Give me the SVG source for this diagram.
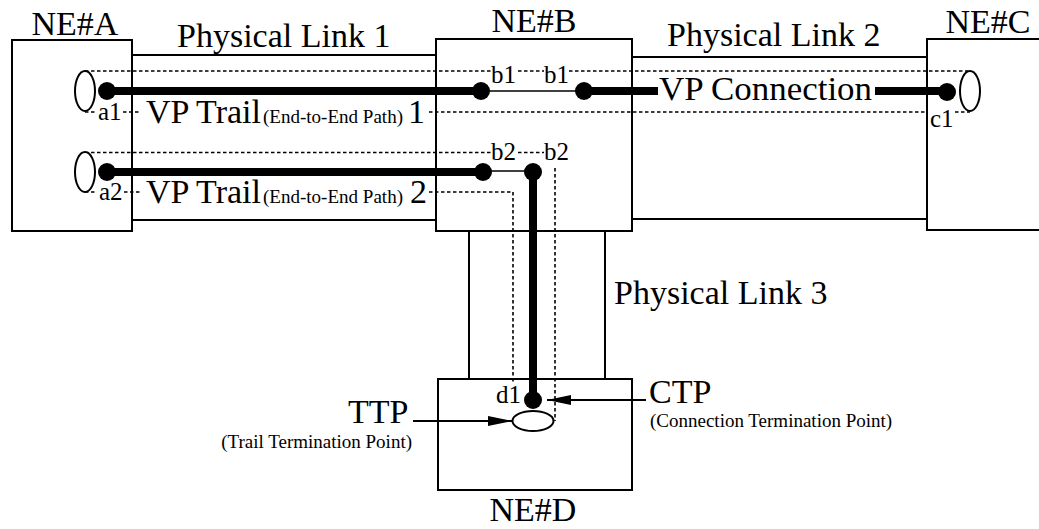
<svg xmlns="http://www.w3.org/2000/svg" width="1039" height="529" viewBox="0 0 1039 529">
  <style>
    .box { fill: #fff; stroke: #000; stroke-width: 2; }
    .link { fill: none; stroke: #000; stroke-width: 2; }
    .dash { fill: none; stroke: #000; stroke-width: 1.6; stroke-dasharray: 3.5 2.5; }
    .thick { fill: none; stroke: #000; stroke-width: 8; }
    .thin { fill: none; stroke: #000; stroke-width: 1.6; }
    .dot { fill: #000; }
    .tp { fill: #fff; stroke: #000; stroke-width: 2; }
    .arrow { fill: none; stroke: #000; stroke-width: 2; marker-end: url(#head); }
    text { font-family: "Liberation Serif", "Times New Roman", serif; fill: #000; }
    .big { font-size: 34px; }
    .lbl { font-size: 25px; }
    .small { font-size: 19px; }
    .mid { text-anchor: middle; }
  </style>
  <defs>
    <marker id="head" viewBox="0 0 24 10" refX="24" refY="5" markerWidth="24" markerHeight="10" markerUnits="userSpaceOnUse" orient="auto">
      <path d="M0,0 L24,5 L0,10 Z" fill="#000"/>
    </marker>
  </defs>

  <rect width="1039" height="529" fill="#fff"/>

  <!-- physical links between network elements -->
  <g id="physical-links">
    <line class="link" x1="132" y1="55" x2="436" y2="55"/>
    <line class="link" x1="132" y1="220" x2="436" y2="220"/>
    <text class="big" x="177" y="47">Physical Link 1</text>
    <line class="link" x1="632" y1="57" x2="927" y2="57"/>
    <line class="link" x1="632" y1="219" x2="927" y2="219"/>
    <text class="big" x="667" y="46">Physical Link 2</text>
    <line class="link" x1="469" y1="231" x2="469" y2="379"/>
    <line class="link" x1="605" y1="231" x2="605" y2="379"/>
    <text class="big" x="614" y="304">Physical Link 3</text>
  </g>

  <!-- network elements -->
  <g id="ne-a">
    <rect class="box" x="12" y="40" width="120" height="191"/>
    <text class="big mid" x="75" y="35">NE#A</text>
  </g>
  <g id="ne-b">
    <rect class="box" x="436" y="39" width="196" height="192"/>
    <text class="big mid" x="534" y="32">NE#B</text>
  </g>
  <g id="ne-c">
    <rect class="box" x="927" y="39" width="120" height="191"/>
    <text class="big mid" x="988" y="33">NE#C</text>
  </g>
  <g id="ne-d">
    <rect class="box" x="438" y="379" width="194" height="111"/>
    <text class="big mid" x="533" y="521">NE#D</text>
  </g>

  <!-- trails and connections -->
  <g id="connectors">
    <!-- VP trail 1 boundary -->
    <line class="dash" x1="85" y1="71" x2="491" y2="71"/>
    <line class="dash" x1="518" y1="71" x2="544" y2="71"/>
    <line class="dash" x1="569" y1="71" x2="970" y2="71"/>
    <line class="dash" x1="85" y1="112" x2="96" y2="112"/>
    <line class="dash" x1="123" y1="112" x2="141" y2="112"/>
    <line class="dash" x1="429" y1="112" x2="928" y2="112"/>
    <line class="dash" x1="955" y1="112" x2="970" y2="112"/>

    <!-- VP trail 2 boundary -->
    <line class="dash" x1="85" y1="152.5" x2="491" y2="152.5"/>
    <line class="dash" x1="518" y1="152.5" x2="544" y2="152.5"/>
    <line class="dash" x1="555" y1="168" x2="555" y2="421"/>
    <line class="dash" x1="85" y1="192" x2="96" y2="192"/>
    <line class="dash" x1="124" y1="192" x2="141" y2="192"/>
    <polyline class="dash" points="429,192 513,192 513,383"/>

    <!-- VP trail 1 path -->
    <line class="thick" x1="107" y1="91" x2="481" y2="91"/>
    <line class="thin" x1="481" y1="91" x2="584" y2="91"/>
    <line class="thick" x1="584" y1="91" x2="658" y2="91"/>
    <line class="thick" x1="875" y1="91" x2="947" y2="91"/>

    <!-- VP trail 2 path -->
    <line class="thick" x1="107" y1="172" x2="483" y2="172"/>
    <line class="thin" x1="483" y1="171" x2="533" y2="171"/>
    <line class="thick" x1="533" y1="172" x2="533" y2="400"/>

    <!-- termination point pointers -->
    <line class="arrow" x1="646" y1="400" x2="547" y2="400"/>
    <line class="arrow" x1="413" y1="421" x2="512" y2="421"/>
  </g>

  <!-- termination points and connection points -->
  <g id="points">
    <ellipse class="tp" cx="85" cy="91" rx="10" ry="20"/>
    <ellipse class="tp" cx="85" cy="172" rx="10" ry="20"/>
    <ellipse class="tp" cx="970" cy="91" rx="10" ry="20"/>
    <ellipse class="tp" cx="533" cy="421" rx="20.5" ry="10"/>
    <circle class="dot" cx="107" cy="91" r="9"/>
    <circle class="dot" cx="107" cy="172" r="9"/>
    <circle class="dot" cx="481" cy="91" r="9"/>
    <circle class="dot" cx="584" cy="91" r="9"/>
    <circle class="dot" cx="483" cy="172" r="9"/>
    <circle class="dot" cx="533" cy="172" r="9"/>
    <circle class="dot" cx="947" cy="92" r="9"/>
    <circle class="dot" cx="533" cy="400" r="9"/>
  </g>

  <!-- labels -->
  <g id="labels">
    <text class="lbl" x="98" y="120">a1</text>
    <text class="lbl" x="99" y="200">a2</text>
    <text class="lbl" x="491" y="83">b1</text>
    <text class="lbl" x="544" y="83">b1</text>
    <text class="lbl" x="491" y="160">b2</text>
    <text class="lbl" x="544" y="160">b2</text>
    <text class="lbl" x="930" y="127">c1</text>
    <text class="lbl" x="496" y="403">d1</text>

    <text class="big" x="146" y="123">VP Trail</text>
    <text class="small" x="263" y="123" textLength="140" lengthAdjust="spacingAndGlyphs">(End-to-End Path)</text>
    <text class="big" x="408" y="123">1</text>
    <text class="big" x="146" y="203">VP Trail</text>
    <text class="small" x="263" y="203" textLength="140" lengthAdjust="spacingAndGlyphs">(End-to-End Path)</text>
    <text class="big" x="410" y="203">2</text>

    <text class="big" x="659" y="100" textLength="213" lengthAdjust="spacingAndGlyphs">VP Connection</text>

    <text class="big" x="649" y="403">CTP</text>
    <text class="small" x="650" y="427">(Connection Termination Point)</text>
    <text class="big" x="348" y="423">TTP</text>
    <text class="small" x="412" y="448" text-anchor="end">(Trail Termination Point)</text>
  </g>
</svg>
